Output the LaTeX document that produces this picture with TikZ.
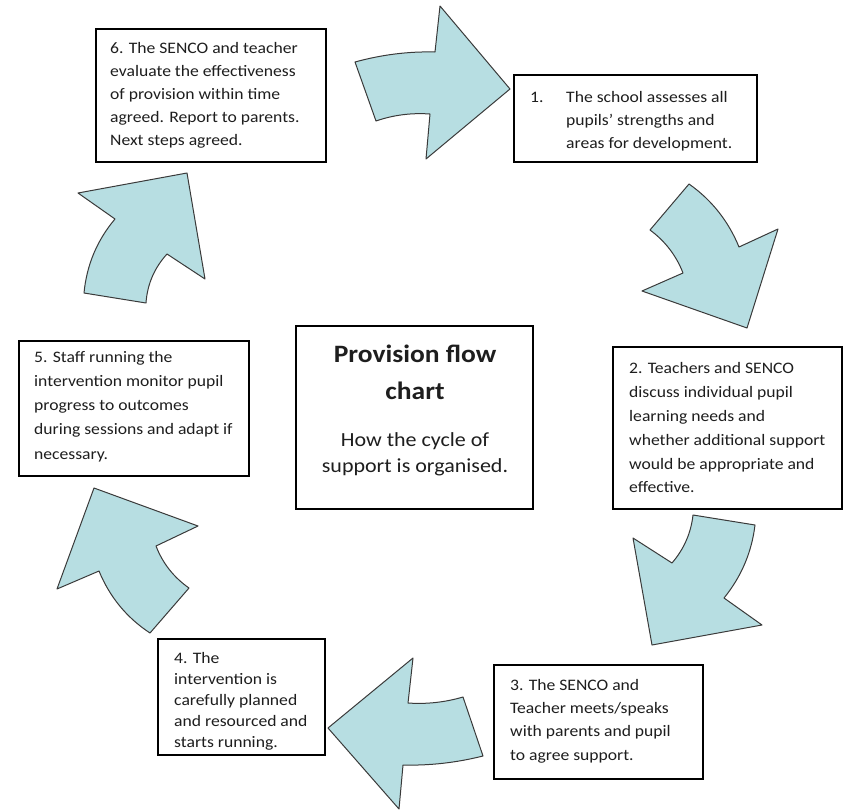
\documentclass[tikz,border=0pt]{standalone}
\usepackage{fontspec}
\setmainfont{Carlito}[FakeStretch=1.1]
\definecolor{arrowfill}{HTML}{B7DEE2}
\definecolor{arrowline}{HTML}{3A3A3A}
\definecolor{txt}{HTML}{1E1E1E}
\tikzset{
  blockarrow/.style={fill=arrowfill, draw=arrowline, line width=1pt, line join=round},
  stepbox/.style={draw=black, line width=1.3pt, fill=white, inner sep=0pt, outer sep=0pt, anchor=north west},
  steptext/.style={anchor=west, align=left, inner sep=0pt, text=txt},
}
\begin{document}
\begin{tikzpicture}[x=1pt,y=-1pt]
\useasboundingbox (0,0) rectangle (843,811);
% block arrows
\path[blockarrow] (355,62) .. controls (381.7,54.7) and (408.3,51.3) .. (435,52) -- (440,6) -- (510,89) -- (426,159) -- (430,114) .. controls (411.3,112.7) and (393.3,115) .. (376,121) -- cycle;
\path[blockarrow] (689,184) .. controls (711.7,200) and (728.3,221) .. (739,247) -- (778,229) -- (747,328) -- (642,291) -- (683,273) .. controls (676.3,255.7) and (665.3,241.3) .. (650,230) -- cycle;
\path[blockarrow] (693,515) -- (755,525) .. controls (751.7,552.3) and (741.3,576.7) .. (724,598) -- (762,625) -- (652,645) -- (633,538) -- (672,563) .. controls (684,549) and (691,533) .. (693,515) -- cycle;
\path[blockarrow] (463,697) .. controls (445,702.3) and (426.7,704.3) .. (408,703) -- (413,658) -- (328,728) -- (399,809) -- (403,765) .. controls (429.7,765.7) and (456.3,762.7) .. (483,756) -- cycle;
\path[blockarrow] (150,633) -- (189,588) .. controls (173.7,577.3) and (162.7,563.3) .. (156,546) -- (198,526) -- (94,488) -- (57,589) -- (99,571) .. controls (109.7,597) and (126.7,617.7) .. (150,633) -- cycle;
\path[blockarrow] (84,293) .. controls (86.7,265) and (97,240.3) .. (115,219) -- (78,193) -- (187,173) -- (205,279) -- (167,254) .. controls (154.3,268) and (147.3,284.3) .. (146,303) -- cycle;
% boxes
\node[stepbox, minimum width=230pt, minimum height=133pt] (b6) at (96,29) {};
\node[stepbox, minimum width=243pt, minimum height=87pt] (b1) at (514,75) {};
\node[stepbox, minimum width=229pt, minimum height=162pt] (b2) at (613,347) {};
\node[stepbox, minimum width=209pt, minimum height=114pt] (b3) at (494,665) {};
\node[stepbox, minimum width=167pt, minimum height=116pt] (b4) at (158,639) {};
\node[stepbox, minimum width=230pt, minimum height=135pt] (b5) at (19,341) {};
\node[stepbox, minimum width=237pt, minimum height=183pt] (bc) at (296,326) {};
% texts
\node[steptext, font=\fontsize{16}{23}\selectfont] (t6) at ([xshift=14pt]b6.west) {6. The SENCO and teacher\\evaluate the effectiveness\\of provision within time\\agreed. Report to parents.\\Next steps agreed.};
\node[steptext, font=\fontsize{16}{23}\selectfont, yshift=-3pt] (t1) at ([xshift=16pt]b1.west) {\makebox[36pt][l]{1.}The school assesses all\\\hspace*{36pt}pupils’ strengths and\\\hspace*{36pt}areas for development.};
\node[steptext, font=\fontsize{16}{23.8}\selectfont] (t2) at ([xshift=16pt]b2.west) {2. Teachers and SENCO\\discuss individual pupil\\learning needs and\\whether additional support\\would be appropriate and\\effective.};
\node[steptext, font=\fontsize{16}{23.3}\selectfont, yshift=1pt] (t3) at ([xshift=16pt]b3.west) {3. The SENCO and\\Teacher meets/speaks\\with parents and pupil\\to agree support.};
\node[steptext, font=\fontsize{16}{21}\selectfont, yshift=-4pt] (t4) at ([xshift=16pt]b4.west) {4. The\\intervention is\\carefully planned\\and resourced and\\starts running.};
\node[steptext, font=\fontsize{16}{24.2}\selectfont, yshift=2pt] (t5) at ([xshift=15pt]b5.west) {5. Staff running the\\intervention monitor pupil\\progress to outcomes\\during sessions and adapt if\\necessary.};
\node[align=center, inner sep=0pt, text=txt, font=\fontsize{25}{37}\selectfont\bfseries] (title) at (415,372) {Provision flow\\chart};
\node[align=center, inner sep=0pt, text=txt, font=\fontsize{20}{26}\selectfont] (sub) at (415,454) {How the cycle of\\support is organised.};
\end{tikzpicture}
\end{document}
